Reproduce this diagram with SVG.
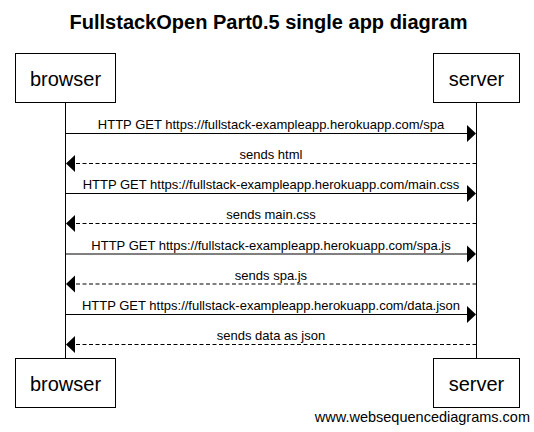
<svg xmlns="http://www.w3.org/2000/svg" width="534" height="432" viewBox="0 0 534 432">
<style>
  .box { fill: #fff; stroke: #000; stroke-width: 1; }
  .life { stroke: #000; stroke-width: 1; }
  .msg { stroke: #000; stroke-width: 1; fill: none; }
  .dash { stroke-dasharray: 4 2.5; }
  .head { fill: #000; stroke: none; }
  .actor { font-family: "Liberation Sans", Arial, sans-serif; font-size: 20px; text-anchor: middle; fill: #000; }
  .lbl { font-family: "Liberation Sans", Arial, sans-serif; font-size: 13px; text-anchor: middle; fill: #000; }
  .title { font-family: "Liberation Sans", Arial, sans-serif; font-size: 20px; font-weight: bold; text-anchor: middle; fill: #000; }
  .wm { font-family: "Liberation Sans", Arial, sans-serif; font-size: 14.5px; text-anchor: end; fill: #000; }
</style>
<rect width="534" height="432" fill="#fff"/>
<text class="title" x="268.5" y="28.5">FullstackOpen Part0.5 single app diagram</text>

<g id="lifelines">
  <line class="life" x1="65.5" y1="102.5" x2="65.5" y2="358.5"/>
  <line class="life" x1="476.5" y1="102.5" x2="476.5" y2="358.5"/>
</g>

<g id="browser">
  <rect class="box" x="15.5" y="53.5" width="100" height="49"/>
  <text class="actor" x="65.5" y="85.5">browser</text>
</g>
<g id="server">
  <rect class="box" x="433.5" y="53.5" width="86" height="49"/>
  <text class="actor" x="476.5" y="85.5">server</text>
</g>
<g id="browser-bottom">
  <rect class="box" x="15.5" y="358.5" width="100" height="49"/>
  <text class="actor" x="65.5" y="390.5">browser</text>
</g>
<g id="server-bottom">
  <rect class="box" x="433.5" y="358.5" width="86" height="49"/>
  <text class="actor" x="476.5" y="390.5">server</text>
</g>

<g id="connectors">
  <line class="msg" x1="65.5" y1="133.5" x2="468" y2="133.5"/>
  <polygon class="head" points="467,125 476,133.5 467,142"/>
  <text class="lbl" x="271" y="129">HTTP GET https://fullstack-exampleapp.herokuapp.com/spa</text>

  <line class="msg dash" x1="476.5" y1="163.5" x2="74" y2="163.5"/>
  <polygon class="head" points="75,155 66,163.5 75,172"/>
  <text class="lbl" x="271" y="159">sends html</text>

  <line class="msg" x1="65.5" y1="193.5" x2="468" y2="193.5"/>
  <polygon class="head" points="467,185 476,193.5 467,202"/>
  <text class="lbl" x="271" y="189">HTTP GET https://fullstack-exampleapp.herokuapp.com/main.css</text>

  <line class="msg dash" x1="476.5" y1="223.5" x2="74" y2="223.5"/>
  <polygon class="head" points="75,215 66,223.5 75,232"/>
  <text class="lbl" x="271" y="219">sends main.css</text>

  <line class="msg" x1="65.5" y1="254" x2="468" y2="254"/>
  <polygon class="head" points="467,245.5 476,254 467,262.5"/>
  <text class="lbl" x="271" y="249.5">HTTP GET https://fullstack-exampleapp.herokuapp.com/spa.js</text>

  <line class="msg dash" x1="476.5" y1="284" x2="74" y2="284"/>
  <polygon class="head" points="75,275.5 66,284 75,292.5"/>
  <text class="lbl" x="271" y="279.5">sends spa.js</text>

  <line class="msg" x1="65.5" y1="314.5" x2="468" y2="314.5"/>
  <polygon class="head" points="467,306 476,314.5 467,323"/>
  <text class="lbl" x="271" y="310">HTTP GET https://fullstack-exampleapp.herokuapp.com/data.json</text>

  <line class="msg dash" x1="476.5" y1="344.5" x2="74" y2="344.5"/>
  <polygon class="head" points="75,336 66,344.5 75,353"/>
  <text class="lbl" x="271" y="340">sends data as json</text>
</g>

<text class="wm" x="530" y="422">www.websequencediagrams.com</text>
</svg>
